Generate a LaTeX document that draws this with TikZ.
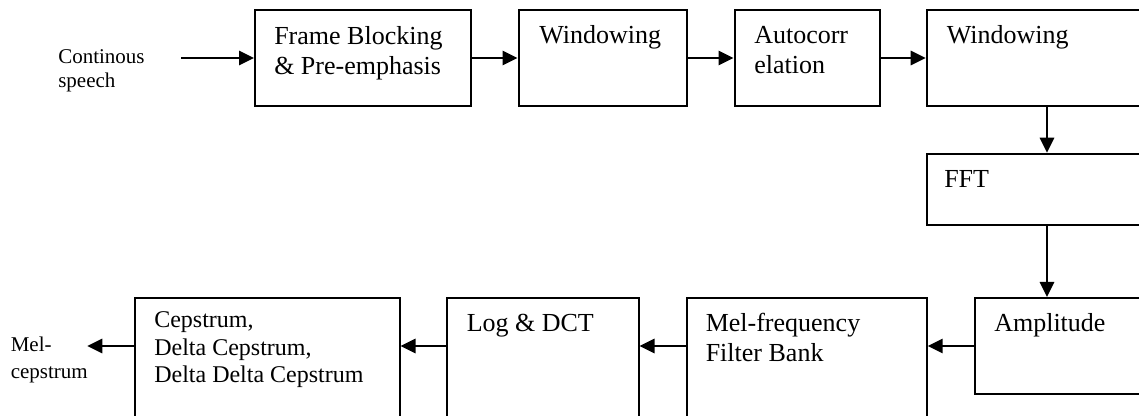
\documentclass[tikz,border=0pt]{standalone}
\usepackage{fontspec}
\setmainfont{Liberation Serif}
\usetikzlibrary{arrows.meta}

\tikzset{
  blk/.style={draw, line width=1.5pt, inner sep=0pt, anchor=north west},
  % block size given in pixel units (1px = 0.75pt)
  blksize/.style 2 args={minimum width=#1*0.75pt, minimum height=#2*0.75pt},
  arr/.style={line width=1.3pt, -{Triangle[length=11.25pt, width=10.8pt]}},
  boxtext/.style={anchor=base west, inner sep=0pt,
    font=\fontsize{19.5pt}{22.5pt}\selectfont},
  smalltext/.style={anchor=base west, inner sep=0pt,
    font=\fontsize{15.75pt}{18pt}\selectfont},
  cepfont/.style={anchor=base west, inner sep=0pt,
    font=\fontsize{18pt}{20.6pt}\selectfont},
}

\begin{document}
\begin{tikzpicture}[x=0.75pt, y=-0.75pt]
  \path[use as bounding box] (0,0) rectangle (1139,416);
  \clip (0,0) rectangle (1139,416);

  % processing blocks
  \node[blk, blksize={216}{96}]    (frame) at (254,9)     {};
  \node[blk, blksize={168.5}{96}]  (win1)  at (517.5,9)   {};
  \node[blk, blksize={145}{96}]    (auto)  at (733.5,9)   {};
  \node[blk, blksize={240.6}{96}]  (win2)  at (925.7,9)   {};
  \node[blk, blksize={240.6}{71.8}] (fft)  at (925.7,152.7) {};
  \node[blk, blksize={200}{96}]    (amp)   at (973.7,297) {};
  \node[blk, blksize={240.2}{150}] (mel)   at (685.5,297) {};
  \node[blk, blksize={191.7}{150}] (logd)  at (445.8,297) {};
  \node[blk, blksize={265}{150}]   (cep)   at (133.5,297) {};

  % block captions
  \node[boxtext] (tframe) at (274,45)
    {\vtop{\hbox{Frame Blocking}\hbox{\& Pre-emphasis}}};
  \node[boxtext] (twin1) at (539,44) {Windowing};
  \node[boxtext] (tauto) at (754,44)
    {\vtop{\hbox{Autocorr}\hbox{elation}}};
  \node[boxtext] (twin2) at (946.5,44) {Windowing};
  \node[boxtext] (tfft)  at (944,188) {FFT};
  \node[boxtext] (tamp)  at (994,331.7) {Amplitude};
  \node[boxtext] (tmel)  at (705.5,331.7)
    {\vtop{\hbox{Mel-frequency}\hbox{Filter Bank}}};
  \node[boxtext] (tlog)  at (466.5,331.7) {Log \& DCT};
  \node[cepfont] (tcep)  at (154,328)
    {\vtop{\hbox{Cepstrum,}\hbox{Delta Cepstrum,}\hbox{Delta Delta Cepstrum}}};

  % input and output labels
  \node[smalltext] (tin) at (58,64) {\vtop{\hbox{Continous}\hbox{speech}}};
  \node[smalltext] (tout) at (10.5,351.7)
    {\vtop{\baselineskip=20pt\hbox{Mel-}\hbox{cepstrum}}};
  \coordinate (in) at (181,0);
  \coordinate (out) at (87.3,0);

  % signal flow
  \draw[arr] (in |- frame.west) -- (frame.west);
  \draw[arr] (frame.east) -- (win1.west);
  \draw[arr] (win1.east) -- (auto.west);
  \draw[arr] (auto.east) -- (win2.west);
  \draw[arr] (win2.south) -- (fft.north);
  \draw[arr] (fft.south) -- (fft.south |- amp.north);
  \draw[arr] (amp.west) -- (amp.west -| mel.east);
  \draw[arr] (mel.west |- amp.west) -- (logd.east |- amp.west);
  \draw[arr] (logd.west |- amp.west) -- (cep.east |- amp.west);
  \draw[arr] (cep.west |- amp.west) -- (out |- amp.west);
\end{tikzpicture}
\end{document}
